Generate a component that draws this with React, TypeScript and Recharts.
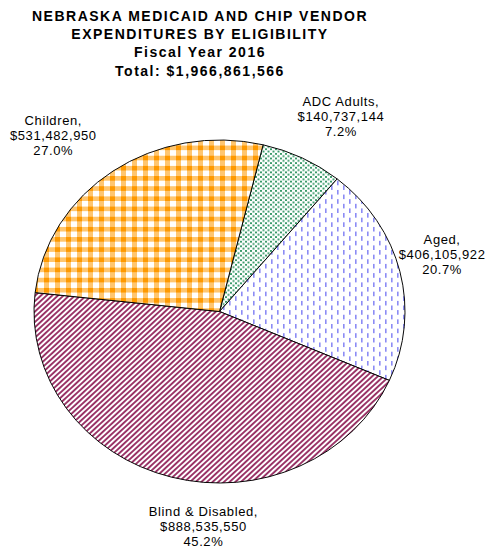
import { Cell, Pie, PieChart } from "recharts";

const categories = ["ADC Adults", "Aged", "Blind & Disabled", "Children"];
const expenditures = [140737144, 406105922, 888535550, 531482950];
// shares as printed on the source chart
const shareLabels = ["7.2%", "20.7%", "45.2%", "27.0%"];
const titleLines = [
  "NEBRASKA MEDICAID AND CHIP VENDOR",
  "EXPENDITURES BY ELIGIBILITY",
  "Fiscal Year 2016",
  "Total: $1,966,861,566",
];

const W = 487;
const H = 548;
const CX = 219.5;
const CY = 311.5;
const RX = 185.5;
const RY = 171.5;
const FONT = "'Liberation Sans', Arial, sans-serif";
const FILLS = ["url(#pat-adc)", "url(#pat-aged)", "url(#pat-blind)", "url(#pat-children)"];

// label placement: radial from the slice's mid angle, with a small hand nudge
const LABEL_RX = 232;
const LABEL_RY = 215;
const LABEL_NUDGE: Record<string, [number, number]> = {
  "ADC Adults": [18, -3],
  Aged: [-3, -7],
  "Blind & Disabled": [44, 7],
  Children: [-33, 0],
};

const data = categories.map((name, i) => ({
  name,
  value: expenditures[i],
  share: shareLabels[i],
}));
const RAD = Math.PI / 180;

function renderLabel(props: any) {
  const { cx, cy, midAngle, value } = props;
  const name = props.name ?? props.payload?.name;
  const share = props.payload?.share ?? props.share;
  const [nx, ny] = LABEL_NUDGE[name] ?? [0, 0];
  const x = cx + LABEL_RX * Math.cos(midAngle * RAD) + nx;
  const y = cy - LABEL_RY * Math.sin(midAngle * RAD) + ny;
  const lines = [`${name},`, `$${Number(value).toLocaleString("en-US")}`, share];
  return (
    <text
      x={x}
      y={y - 15 + 4.5}
      textAnchor="middle"
      fontFamily={FONT}
      fontSize={13}
      letterSpacing={0.6}
      fill="#000"
    >
      {lines.map((l, i) => (
        <tspan key={i} x={x} dy={i === 0 ? 0 : 15}>
          {l}
        </tspan>
      ))}
    </text>
  );
}

function Patterns() {
  return (
    <svg width={0} height={0} style={{ position: "absolute" }}>
      <defs>
        <pattern id="pat-adc" width={5} height={5} patternUnits="userSpaceOnUse">
          <rect width={5} height={5} fill="#fff" />
          <rect x={0} y={0} width={2} height={2} fill="#3a9a6a" />
          <rect x={2.5} y={2.5} width={2} height={2} fill="#3a9a6a" />
        </pattern>
        <pattern id="pat-aged" width={12} height={10} patternUnits="userSpaceOnUse">
          <rect width={12} height={10} fill="#fff" />
          <rect x={1} y={0} width={1.6} height={5} fill="#8c8cf5" />
          <rect x={7} y={5} width={1.6} height={5} fill="#8c8cf5" />
        </pattern>
        <pattern
          id="pat-blind"
          width={4}
          height={4}
          patternUnits="userSpaceOnUse"
          patternTransform="rotate(45)"
        >
          <rect width={4} height={4} fill="#fff" />
          <rect x={0} y={0} width={2} height={4} fill="#993366" />
        </pattern>
        <pattern id="pat-children" width={11} height={11} patternUnits="userSpaceOnUse">
          <rect width={11} height={11} fill="#fff" />
          <rect x={0} y={0} width={11} height={5} fill="#ffc670" />
          <rect x={0} y={0} width={5} height={11} fill="#ffc670" />
          <rect x={0} y={0} width={5} height={5} fill="#ff9900" />
        </pattern>
      </defs>
    </svg>
  );
}

export default function App() {
  return (
    <div style={{ position: "absolute", left: 0, top: 0, width: W, height: H, background: "#fff" }}>
      <style>{`.recharts-pie .recharts-sector { transform-origin: ${CX}px ${CY}px; transform: scaleY(${RY / RX}); }`}</style>
      <Patterns />
      <PieChart width={W} height={H} margin={{ top: 0, right: 0, bottom: 0, left: 0 }}>
        <Pie
          data={data}
          dataKey="value"
          nameKey="name"
          cx={CX}
          cy={CY}
          outerRadius={RX}
          startAngle={76.4}
          endAngle={-283.6}
          stroke="#000"
          strokeWidth={1}
          label={renderLabel}
          labelLine={false}
          isAnimationActive={false}
        >
          {data.map((d, i) => (
            <Cell key={d.name} fill={FILLS[i]} />
          ))}
        </Pie>
      </PieChart>
      <svg width={W} height={90} style={{ position: "absolute", left: 0, top: 0 }}>
        {titleLines.map((t, i) => (
          <text
            key={t}
            x={200}
            y={[21, 39, 57, 76][i]}
            textAnchor="middle"
            fontFamily={FONT}
            fontWeight="bold"
            fontSize={14}
            letterSpacing={1.5}
            fill="#000"
          >
            {t}
          </text>
        ))}
      </svg>
    </div>
  );
}
